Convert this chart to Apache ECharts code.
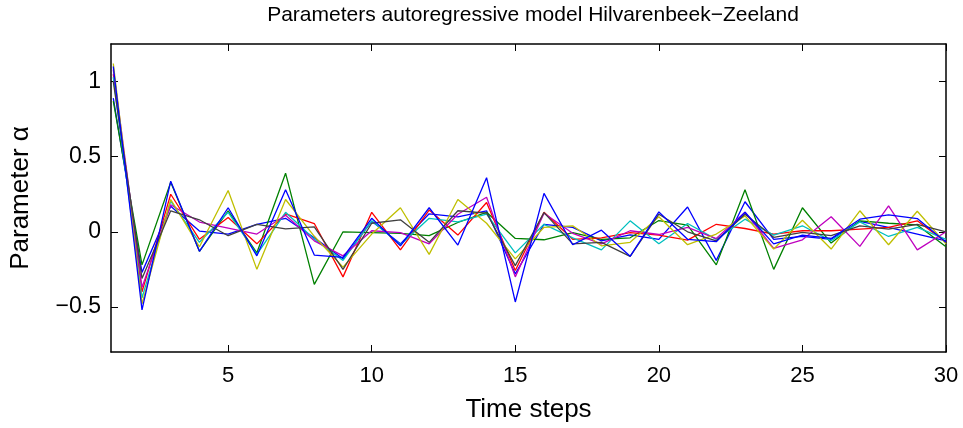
<!DOCTYPE html>
<html>
<head>
<meta charset="utf-8">
<script src="https://cdn.jsdelivr.net/npm/echarts@6/dist/echarts.min.js"></script>
<style>
html,body{margin:0;padding:0;background:#fff;}
#chart{width:963px;height:428px;}
</style>
</head>
<body>
<div id="chart"></div>
<script>
var steps = [1,2,3,4,5,6,7,8,9,10,11,12,13,14,15,16,17,18,19,20,21,22,23,24,25,26,27,28,29,30];
var xTicks = [5,10,15,20,25,30];
var yTicks = [-0.5,0,0.5,1];

var blueA  = [0.89,-0.27,0.17,0.005,-0.015,0.05,0.09,-0.04,-0.18,0.07,-0.08,0.12,0.10,0.14,-0.28,0.05,0.03,-0.06,-0.02,-0.05,0.165,-0.19,0.20,-0.05,-0.03,-0.05,0.07,0.03,-0.015,-0.06];
var green  = [0.87,-0.22,0.33,-0.13,0.14,-0.14,0.39,-0.35,0.0,-0.005,-0.01,-0.025,0.062,0.13,-0.044,-0.053,-0.005,-0.05,-0.04,0.075,0.045,-0.22,0.28,-0.25,0.16,-0.075,0.073,0.057,0.046,-0.10];
var red    = [1.05,-0.40,0.25,-0.05,0.095,-0.08,0.12,0.055,-0.30,0.13,-0.12,0.145,-0.022,0.195,-0.258,0.13,-0.05,-0.04,-0.005,-0.022,-0.055,0.05,0.022,-0.015,0.007,0.007,0.018,0.029,0.073,-0.07];
var cyan   = [1.03,-0.44,0.205,-0.07,0.13,-0.15,0.13,-0.05,-0.19,0.073,-0.086,0.09,0.066,0.117,-0.14,0.05,-0.04,-0.12,0.073,-0.08,0.055,-0.05,0.084,-0.022,0.04,-0.06,0.066,-0.031,0.029,-0.05];
var magenta= [1.08,-0.37,0.18,0.065,0.025,-0.015,0.11,-0.06,-0.16,0.007,-0.005,-0.08,0.117,0.23,-0.30,0.123,-0.01,-0.08,0.007,-0.018,0.03,-0.045,0.13,-0.11,-0.053,0.10,-0.097,0.172,-0.12,0.0];
var yellow = [1.12,-0.48,0.215,-0.10,0.275,-0.25,0.215,-0.03,-0.235,-0.015,0.16,-0.15,0.215,0.057,-0.18,0.03,0.04,-0.093,-0.07,0.10,-0.086,-0.015,0.106,-0.115,0.077,-0.115,0.14,-0.086,0.137,-0.08];
var gray   = [1.0,-0.31,0.14,0.08,-0.026,0.05,0.02,0.033,-0.25,0.057,0.08,-0.07,0.14,0.125,-0.225,0.128,-0.08,-0.07,-0.163,0.117,0.0,-0.06,0.117,-0.037,-0.004,-0.026,0.04,0.018,0.05,0.0];
var blueB  = [1.10,-0.52,0.337,-0.13,0.16,-0.16,0.28,-0.155,-0.17,0.09,-0.093,0.16,-0.088,0.36,-0.467,0.256,-0.086,0.011,-0.163,0.132,-0.05,-0.066,0.13,-0.08,-0.022,-0.044,0.084,0.112,0.088,-0.07];

var seriesList = [
  {vals: blueA, color: '#0000ff'},
  {vals: green, color: '#008000'},
  {vals: red, color: '#ff0000'},
  {vals: cyan, color: '#00bfbf'},
  {vals: magenta, color: '#bf00bf'},
  {vals: yellow, color: '#bfbf00'},
  {vals: gray, color: '#404040'},
  {vals: blueB, color: '#0000ff'}
];

var FONT = 'Liberation Sans, Arial, sans-serif';
function fmtY(v){ return v === 0 ? '0' : String(v).replace('-', '\u2212'); }

var chart = echarts.init(document.getElementById('chart'), null, {renderer:'canvas'});
var axisLine = {show:true, onZero:false, lineStyle:{color:'#000', width:1.5}};
var tickStyle = {color:'#000', width:1};
var option = {
  animation:false,
  backgroundColor:'#fff',
  title:{
    text:'Parameters autoregressive model Hilvarenbeek\u2212Zeeland',
    left:528, top:0, textAlign:'center',
    textStyle:{fontFamily:FONT, fontWeight:'normal', fontSize:21, color:'#000'}
  },
  grid:{left:111, right:17, top:44, bottom:75},
  xAxis:[{
    type:'value', min:0.92, max:30, position:'bottom',
    axisLine:axisLine,
    axisTick:{show:true, inside:true, length:7, customValues:xTicks, lineStyle:tickStyle},
    axisLabel:{show:true, customValues:xTicks, margin:13, fontFamily:FONT, fontSize:22, color:'#000'},
    splitLine:{show:false},
    name:'Time steps', nameLocation:'middle', nameGap:45,
    nameTextStyle:{fontFamily:FONT, fontSize:26, color:'#000'}
  },{
    type:'value', min:0.92, max:30, position:'top',
    axisLine:axisLine,
    axisTick:{show:true, inside:true, length:7, customValues:xTicks, lineStyle:tickStyle},
    axisLabel:{show:false}, splitLine:{show:false}
  }],
  yAxis:[{
    type:'value', min:-0.8, max:1.25, position:'left',
    axisLine:axisLine,
    axisTick:{show:true, inside:true, length:7, customValues:yTicks, lineStyle:tickStyle},
    axisLabel:{show:true, customValues:yTicks, margin:10, formatter:fmtY, fontFamily:FONT, fontSize:23, color:'#000'},
    splitLine:{show:false},
    name:'Parameter \u03b1', nameLocation:'middle', nameGap:77,
    nameTextStyle:{fontFamily:FONT, fontSize:26, color:'#000'}
  },{
    type:'value', min:-0.8, max:1.25, position:'right',
    axisLine:axisLine,
    axisTick:{show:true, inside:true, length:7, customValues:yTicks, lineStyle:tickStyle},
    axisLabel:{show:false}, splitLine:{show:false}
  }],
  series: seriesList.map(function(s){
    return {
      type:'line', symbol:'none', xAxisIndex:0, yAxisIndex:0,
      data: steps.map(function(x,i){ return [x, s.vals[i]]; }),
      lineStyle:{color:s.color, width:1.3},
      itemStyle:{color:s.color},
      silent:true
    };
  })
};
chart.setOption(option);
</script>
</body>
</html>
